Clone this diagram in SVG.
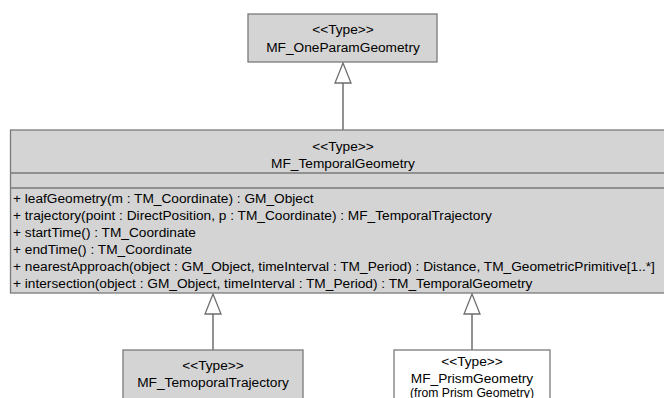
<svg xmlns="http://www.w3.org/2000/svg" width="664" height="398" viewBox="0 0 664 398">
<defs>
<style>
.box{fill:#d4d4d4;stroke:#7a7a7a;stroke-width:1.3}
.wbox{fill:#ffffff;stroke:#7a7a7a;stroke-width:1.3}
.sep{stroke:#7a7a7a;stroke-width:1.3}
text{font-family:"Liberation Sans",Arial,sans-serif;font-size:13.7px;fill:#000}
.c{text-anchor:middle}
.small{font-size:12.2px}
.conn{stroke:#6e6e6e;stroke-width:1.5;fill:none}
.tri{fill:#fff;stroke:#6e6e6e;stroke-width:1.3}
</style>
</defs>
<rect width="664" height="398" fill="#fff"/>
<g id="connectors">
<line class="conn" x1="343" y1="83" x2="343" y2="130"/>
<polygon class="tri" points="343,63 335,83 351,83"/>
<line class="conn" x1="213" y1="314" x2="213" y2="350"/>
<polygon class="tri" points="213,294 205,314 221,314"/>
<line class="conn" x1="472" y1="314" x2="472" y2="350"/>
<polygon class="tri" points="472,294 464,314 480,314"/>
</g>
<g id="MF_OneParamGeometry">
<rect class="box" x="248" y="14" width="189" height="48"/>
<text class="c" x="343" y="34">&lt;&lt;Type&gt;&gt;</text>
<text class="c" x="343" y="52">MF_OneParamGeometry</text>
</g>
<g id="MF_TemporalGeometry">
<rect class="box" x="10.5" y="130" width="670" height="163"/>
<line class="sep" x1="10.5" y1="173" x2="681" y2="173"/>
<line class="sep" x1="10.5" y1="188" x2="681" y2="188"/>
<text class="c" x="343" y="151">&lt;&lt;Type&gt;&gt;</text>
<text class="c" x="343" y="168">MF_TemporalGeometry</text>
<text x="13" y="203">+ leafGeometry(m : TM_Coordinate) : GM_Object</text>
<text x="13" y="220">+ trajectory(point : DirectPosition, p : TM_Coordinate) : MF_TemporalTrajectory</text>
<text x="13" y="237">+ startTime() : TM_Coordinate</text>
<text x="13" y="254">+ endTime() : TM_Coordinate</text>
<text x="13" y="271">+ nearestApproach(object : GM_Object, timeInterval : TM_Period) : Distance, TM_GeometricPrimitive[1..*]</text>
<text x="13" y="288">+ intersection(object : GM_Object, timeInterval : TM_Period) : TM_TemporalGeometry</text>
</g>
<g id="MF_TemoporalTrajectory">
<rect class="box" x="123" y="350" width="180" height="60"/>
<text class="c" x="213" y="370">&lt;&lt;Type&gt;&gt;</text>
<text class="c" x="213" y="387">MF_TemoporalTrajectory</text>
</g>
<g id="MF_PrismGeometry">
<rect class="wbox" x="394" y="350" width="156" height="60"/>
<text class="c" x="472" y="366">&lt;&lt;Type&gt;&gt;</text>
<text class="c" x="472" y="383">MF_PrismGeometry</text>
<text class="c small" x="472" y="397">(from Prism Geometry)</text>
</g>
</svg>
